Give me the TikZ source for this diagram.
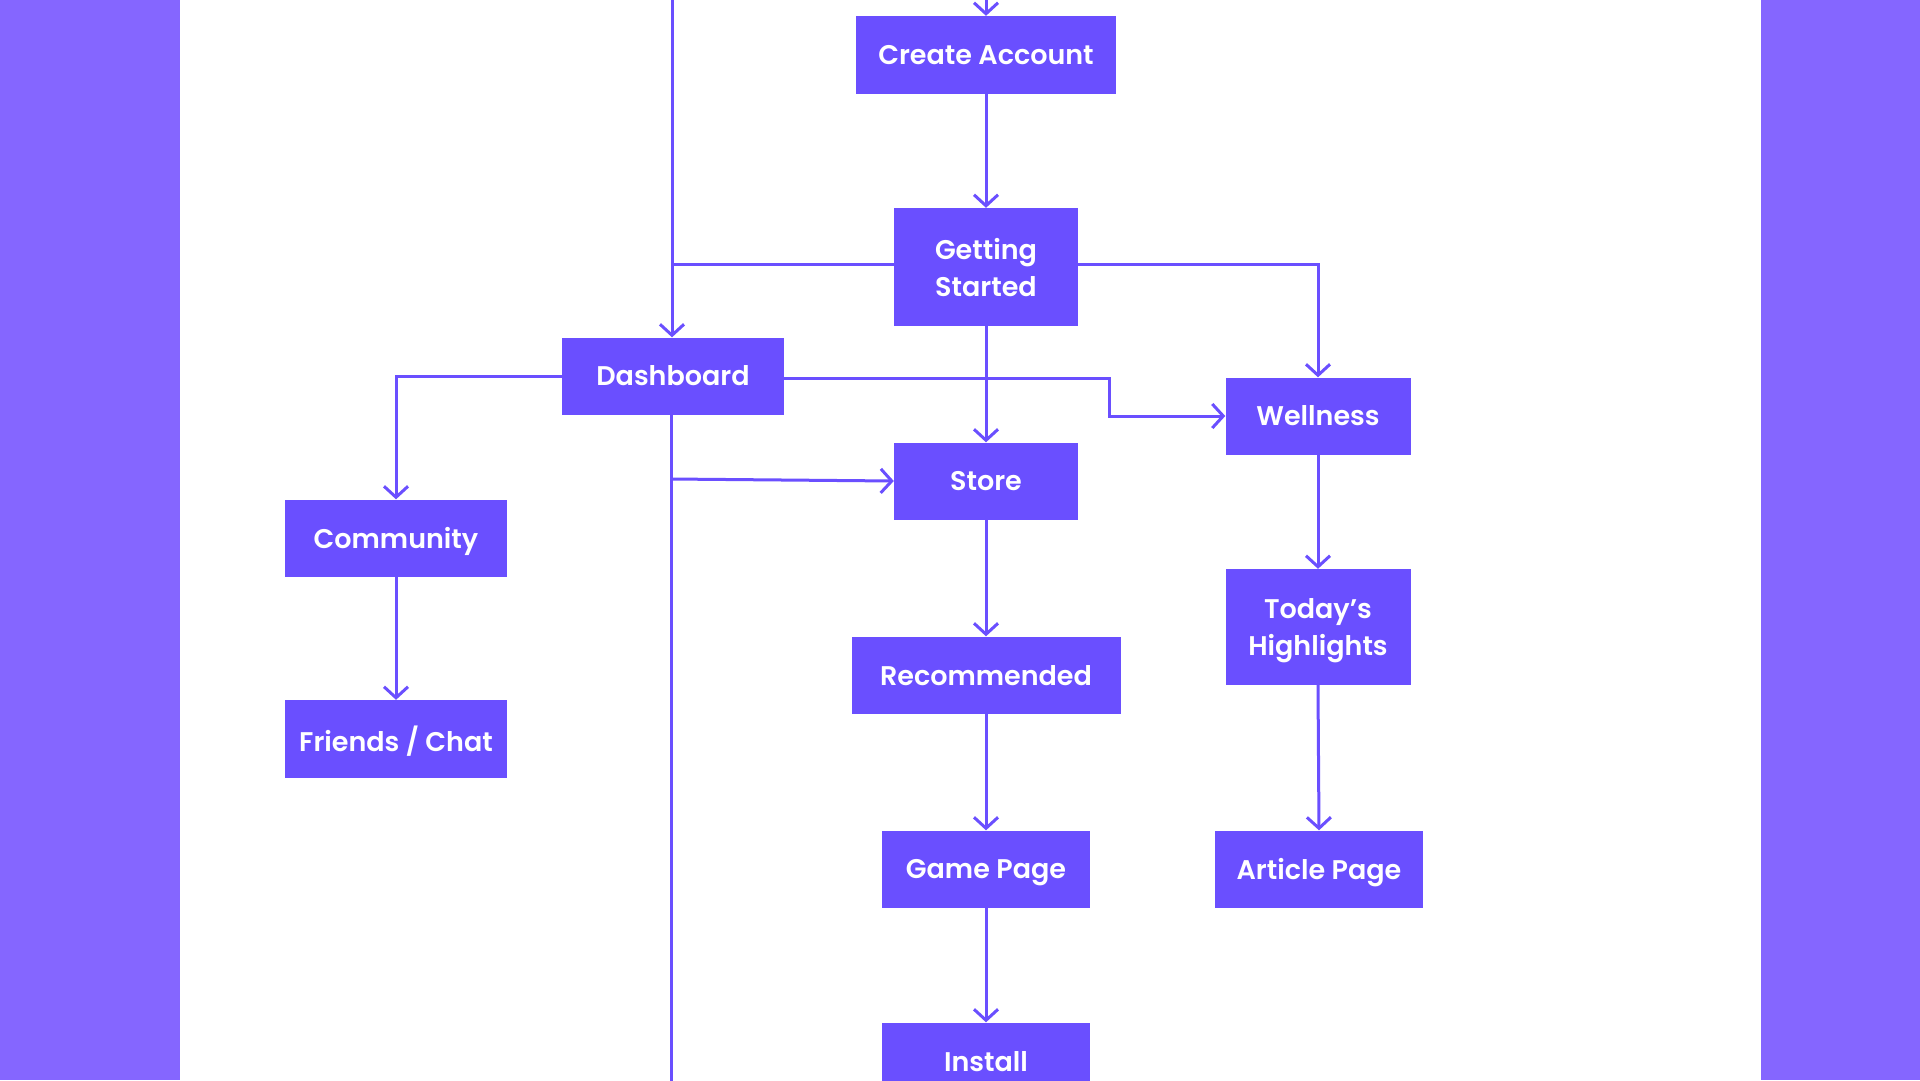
\documentclass[tikz,border=0pt]{standalone}
\usepackage{fontspec}
\setmainfont{Poppins}[UprightFont=* SemiBold]
\usetikzlibrary{arrows.meta}
\definecolor{boxc}{RGB}{106,79,255}
\definecolor{barc}{RGB}{133,102,255}
\tikzset{
  box/.style={fill=boxc, text=white, inner sep=0pt, align=center, text depth=0pt, font=\fontsize{27}{37}\selectfont},
  conn/.style={draw=boxc, line width=3pt},
  arr/.style={conn, -{Straight Barb[length=11pt,width=24pt]}}
}
\begin{document}
\begin{tikzpicture}[x=1pt,y=-1pt]
\useasboundingbox (0,0) rectangle (1920,1080);
\fill[white] (0,0) rectangle (1920,1080);
\fill[barc] (0,0) rectangle (180,1080);
\fill[barc] (1761,0) rectangle (1920,1080);
\node[box, minimum width=260pt, minimum height=78pt] (ca) at (986,55) {Create Account};
\node[box, minimum width=184pt, minimum height=118pt] (gs) at (986,267) {Getting\\Started};
\node[box, minimum width=222pt, minimum height=77pt] (dash) at (673,376) {Dashboard};
\node[box, minimum width=184pt, minimum height=77pt] (store) at (986,481) {Store};
\node[box, minimum width=185pt, minimum height=77pt] (well) at (1318,416) {Wellness};
\node[box, minimum width=222pt, minimum height=77pt] (com) at (396,538) {Community};
\node[box, minimum width=222pt, minimum height=78pt] (fc) at (396,739) {Friends / Chat};
\node[box, minimum width=269pt, minimum height=77pt] (rec) at (986,675) {Recommended};
\node[box, minimum width=185pt, minimum height=116pt] (th) at (1318,627) {Today’s\\Highlights};
\node[box, minimum width=208pt, minimum height=77pt] (gp) at (986,869) {Game Page};
\node[box, minimum width=208pt, minimum height=77pt] (ap) at (1319,869) {Article Page};
\node[box, minimum width=208pt, minimum height=77pt] (ins) at (986,1061) {Install};
\coordinate (topA) at (986,-2);
\coordinate (topB) at (672,-2);
\coordinate (knee) at (1109,0);
\coordinate (bot) at (671,1082);
% connectors
\draw[arr] (topA) -- (ca.north);
\draw[arr] (ca.south) -- (gs.north);
\draw[arr] (topB) -- (topB |- dash.north);
\draw[conn] ([yshift=3pt]gs.west) -- ([yshift=3pt]gs.west -| topB);
\draw[arr] ([yshift=3pt]gs.east) -| (well.north);
\draw[arr] (gs.south) -- (store.north);
\draw[arr] ([yshift=-2pt]dash.east) -- ([yshift=-2pt]dash.east -| knee) |- (well.west);
\draw[arr] (dash.west) -| (com.north);
\draw[conn] (dash.south -| bot) -- (bot);
\draw[arr] ([yshift=2pt]store.west -| bot) -- (store.west);
\draw[arr] (store.south) -- (rec.north);
\draw[arr] (rec.south) -- (gp.north);
\draw[arr] (gp.south) -- (ins.north);
\draw[arr] (com.south) -- (fc.north);
\draw[arr] (well.south) -- (th.north);
\draw[arr] (th.south) -- (ap.north);
\end{tikzpicture}
\end{document}
